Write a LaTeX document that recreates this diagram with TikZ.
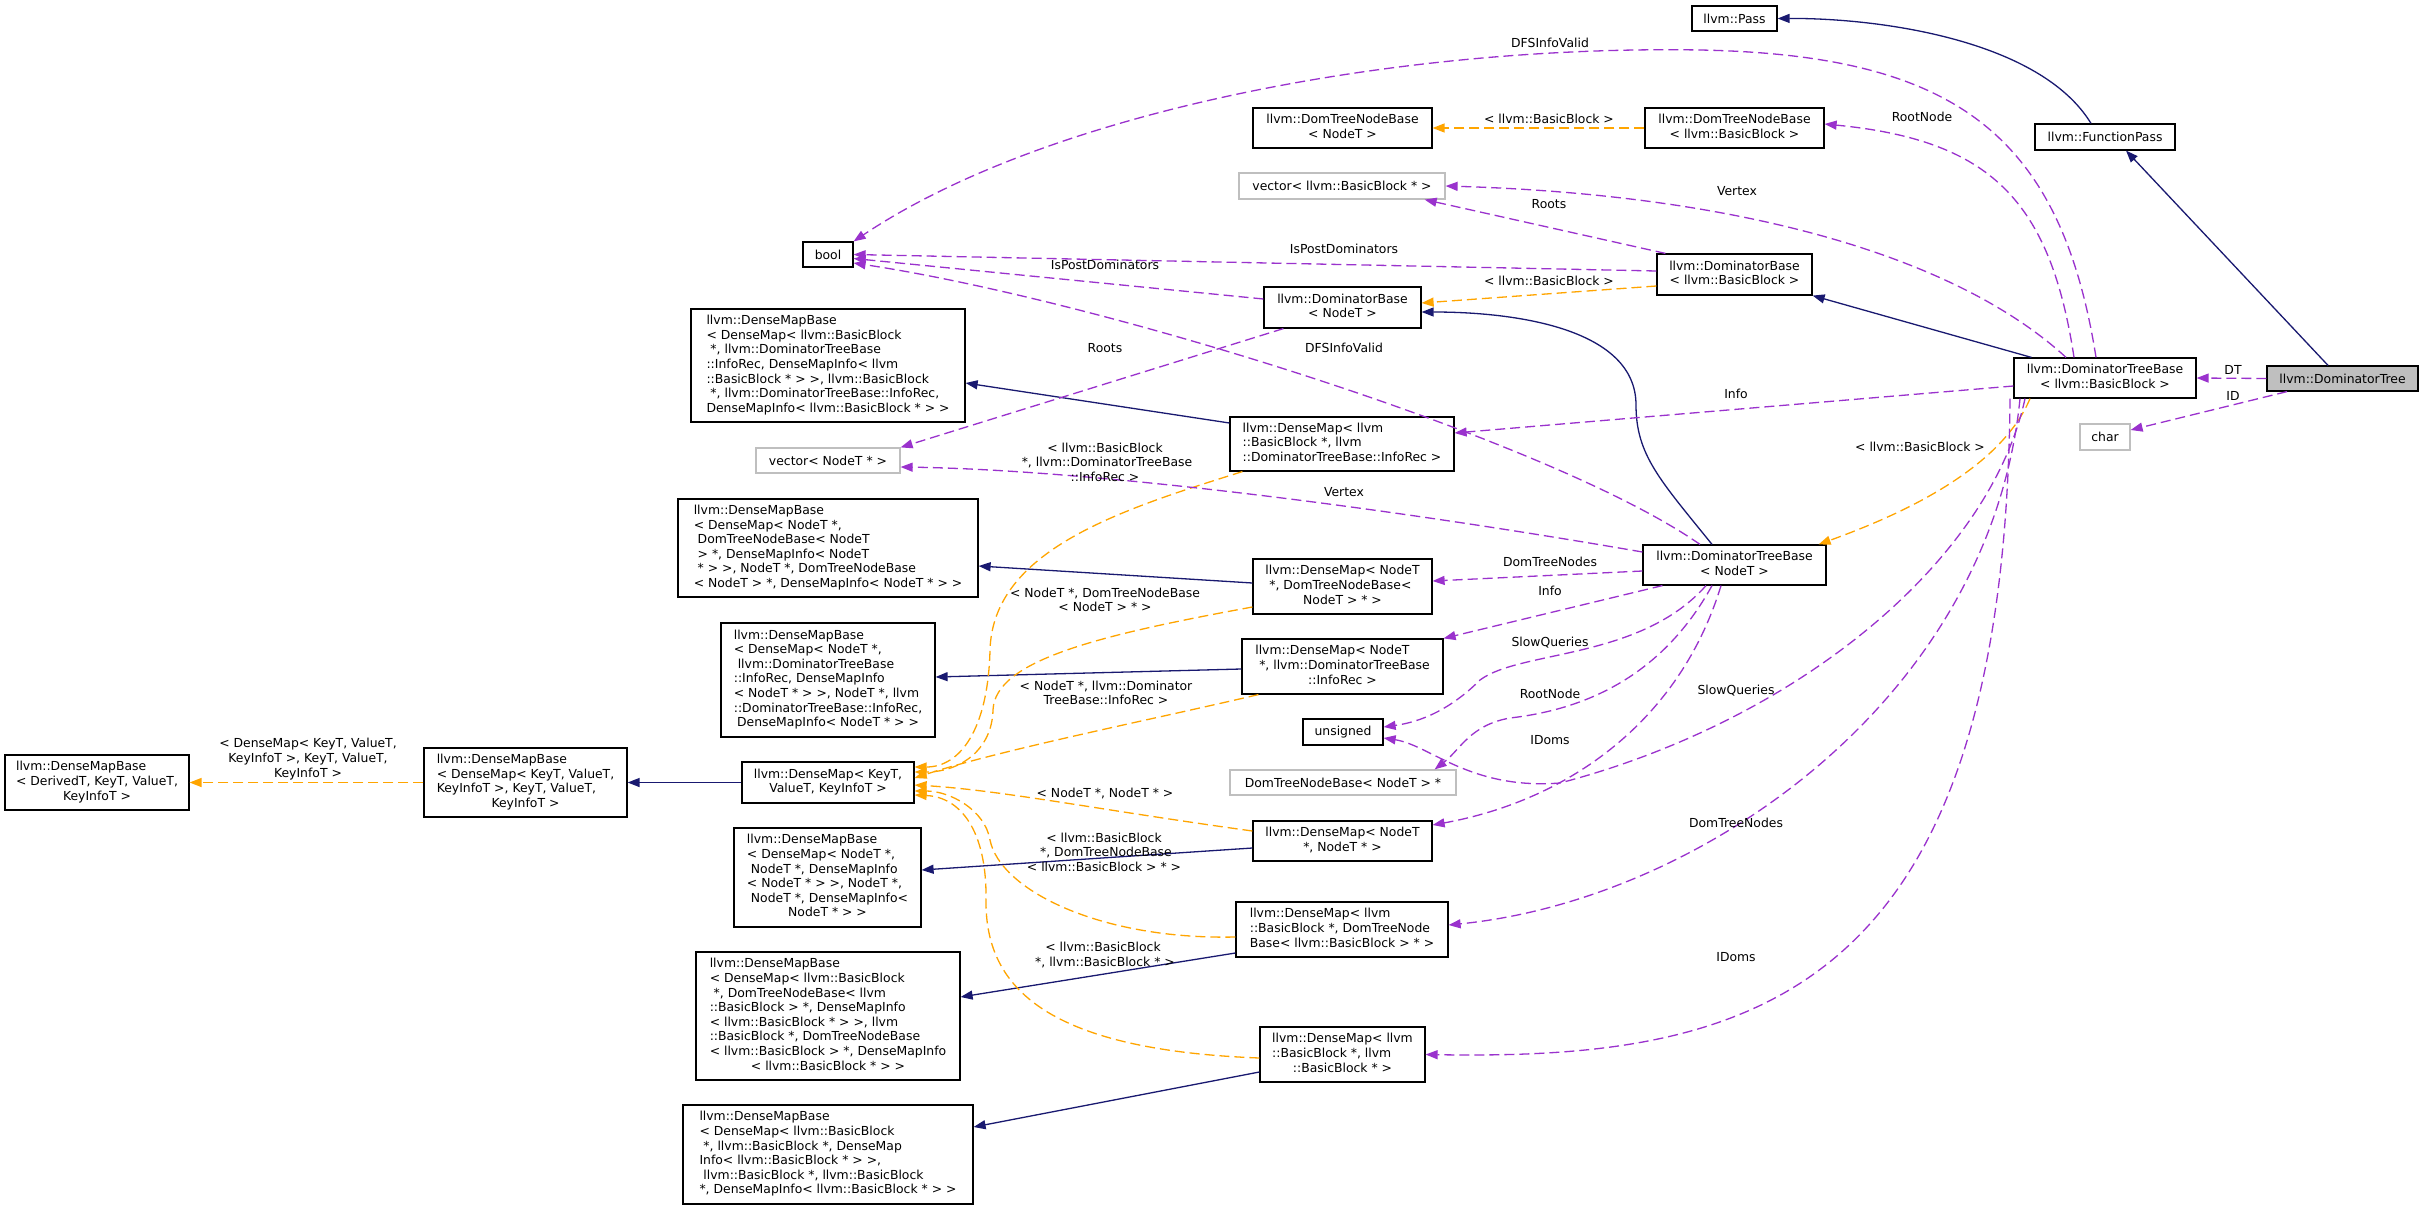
\documentclass[tikz,border=0pt]{standalone}
\usepackage{fontspec}
\setmainfont{DejaVu Sans}
\usetikzlibrary{arrows.meta}
\definecolor{inhblue}{HTML}{191970}
\definecolor{tmplorange}{HTML}{FFA500}
\definecolor{usepurple}{HTML}{9A32CD}
\definecolor{extgrey}{HTML}{BFBFBF}
\newcommand{\dotfont}{\fontsize{12.4}{14.6}\selectfont}
\newcommand{\clstext}[1]{\begin{tabular}{@{}l@{}}#1\end{tabular}}
\newcommand{\lastln}[1]{\multicolumn{1}{@{}c@{}}{#1}}

\begin{document}
\begin{tikzpicture}
    [x=1pt, y=-1pt,
    every node/.style = {font=\dotfont},
    cls/.style = {draw, line width=1.2pt, fill=white, inner sep=3pt},
    ext/.style = {cls, draw=extgrey},
    cur/.style = {cls, fill=extgrey},
    sz/.style 2 args = {minimum width=#1pt, minimum height=#2pt},
    inh/.style = {draw=inhblue, line width=1.3pt, -{Triangle[length=12pt,width=9pt]}},
    tmpl/.style = {draw=tmplorange, line width=1.3pt, dash pattern=on 10pt off 5pt,
        -{Triangle[length=12pt,width=9pt]}},
    use/.style = {draw=usepurple, line width=1.3pt, dash pattern=on 10pt off 5pt,
        -{Triangle[length=12pt,width=9pt]}},
    lbl/.style = {align=center, inner sep=0pt}]

    \fill[white] (0,0) rectangle (2424,1209);
    \useasboundingbox (0,0) rectangle (2424,1209);

    % classes
    \node[cls, sz={85}{25}] (pass) at (1734.5,18.5) {llvm::Pass};
    \node[cls, sz={140}{26}] (fpass) at (2105,137) {llvm::FunctionPass};
    \node[cls, sz={179}{40}] (dtnbT) at (1342.5,128) {\clstext{llvm::DomTreeNodeBase\\\lastln{< NodeT >}}};
    \node[cls, sz={179}{40}] (dtnbBB) at (1734.5,128) {\clstext{llvm::DomTreeNodeBase\\\lastln{< llvm::BasicBlock >}}};
    \node[ext, sz={206}{26}] (vecBB) at (1342,186) {vector< llvm::BasicBlock * >};
    \node[cls, sz={50}{25}] (bool) at (828,254.5) {bool};
    \node[cls, sz={155}{41}] (dbBB) at (1734.5,274.5) {\clstext{llvm::DominatorBase\\\lastln{< llvm::BasicBlock >}}};
    \node[cls, sz={157}{41}] (dbT) at (1342.5,307.5) {\clstext{llvm::DominatorBase\\\lastln{< NodeT >}}};
    \node[cls, sz={274}{113}] (dmbInfoBB) at (828,365.5) {\clstext{llvm::DenseMapBase\\< DenseMap< llvm::BasicBlock\\{} *, llvm::DominatorTreeBase\\::InfoRec, DenseMapInfo< llvm\\::BasicBlock * > >, llvm::BasicBlock\\{} *, llvm::DominatorTreeBase::InfoRec,\\\lastln{DenseMapInfo< llvm::BasicBlock * > >}}};
    \node[cls, sz={182}{40}] (dtbBB) at (2105,378) {\clstext{llvm::DominatorTreeBase\\\lastln{< llvm::BasicBlock >}}};
    \node[cur, sz={151}{25}] (domtree) at (2342.5,378.5) {llvm::DominatorTree};
    \node[ext, sz={50}{26}] (char) at (2105,437) {char};
    \node[cls, sz={224}{54}] (dmInfoBB) at (1342,444) {\clstext{llvm::DenseMap< llvm\\::BasicBlock *, llvm\\\lastln{::DominatorTreeBase::InfoRec >}}};
    \node[ext, sz={144}{25}] (vecT) at (828,460.5) {vector< NodeT * >};
    \node[cls, sz={300}{98}] (dmbNodesT) at (828,548) {\clstext{llvm::DenseMapBase\\< DenseMap< NodeT *,\\{} DomTreeNodeBase< NodeT\\{} > *, DenseMapInfo< NodeT\\{} * > >, NodeT *, DomTreeNodeBase\\\lastln{< NodeT > *, DenseMapInfo< NodeT * > >}}};
    \node[cls, sz={183}{40}] (dtbT) at (1734.5,565) {\clstext{llvm::DominatorTreeBase\\\lastln{< NodeT >}}};
    \node[cls, sz={179}{55}] (dmNodesT) at (1342.5,586.5) {\clstext{llvm::DenseMap< NodeT\\{} *, DomTreeNodeBase<\\\lastln{NodeT > * >}}};
    \node[cls, sz={214}{114}] (dmbInfoT) at (828,680) {\clstext{llvm::DenseMapBase\\< DenseMap< NodeT *,\\{} llvm::DominatorTreeBase\\::InfoRec, DenseMapInfo\\< NodeT * > >, NodeT *, llvm\\::DominatorTreeBase::InfoRec,\\\lastln{DenseMapInfo< NodeT * > >}}};
    \node[cls, sz={201}{55}] (dmInfoT) at (1342.5,666.5) {\clstext{llvm::DenseMap< NodeT\\{} *, llvm::DominatorTreeBase\\\lastln{::InfoRec >}}};
    \node[cls, sz={80}{26}] (unsigned) at (1343,732) {unsigned};
    \node[ext, sz={226}{25}] (dtnbPtr) at (1343,782.5) {DomTreeNodeBase< NodeT > *};
    \node[cls, sz={184}{55}] (dmbGen) at (97,782.5) {\clstext{llvm::DenseMapBase\\< DerivedT, KeyT, ValueT,\\\lastln{KeyInfoT >}}};
    \node[cls, sz={203}{69}] (dmbKVK) at (525.5,782.5) {\clstext{llvm::DenseMapBase\\< DenseMap< KeyT, ValueT,\\KeyInfoT >, KeyT, ValueT,\\\lastln{KeyInfoT >}}};
    \node[cls, sz={172}{41}] (dmKVK) at (828,782.5) {\clstext{llvm::DenseMap< KeyT,\\\lastln{ValueT, KeyInfoT >}}};
    \node[cls, sz={179}{40}] (dmNN) at (1342.5,841) {\clstext{llvm::DenseMap< NodeT\\\lastln{*, NodeT * >}}};
    \node[cls, sz={187}{99}] (dmbNN) at (827.5,877.5) {\clstext{llvm::DenseMapBase\\< DenseMap< NodeT *,\\{} NodeT *, DenseMapInfo\\< NodeT * > >, NodeT *,\\{} NodeT *, DenseMapInfo<\\\lastln{NodeT * > >}}};
    \node[cls, sz={212}{55}] (dmBBNodes) at (1342,929.5) {\clstext{llvm::DenseMap< llvm\\::BasicBlock *, DomTreeNode\\\lastln{Base< llvm::BasicBlock > * >}}};
    \node[cls, sz={264}{128}] (dmbBBNodes) at (828,1016) {\clstext{llvm::DenseMapBase\\< DenseMap< llvm::BasicBlock\\{} *, DomTreeNodeBase< llvm\\::BasicBlock > *, DenseMapInfo\\< llvm::BasicBlock * > >, llvm\\::BasicBlock *, DomTreeNodeBase\\< llvm::BasicBlock > *, DenseMapInfo\\\lastln{< llvm::BasicBlock * > >}}};
    \node[cls, sz={165}{55}] (dmBBBB) at (1342.5,1054.5) {\clstext{llvm::DenseMap< llvm\\::BasicBlock *, llvm\\\lastln{::BasicBlock * >}}};
    \node[cls, sz={290}{99}] (dmbBBBB) at (828,1154.5) {\clstext{llvm::DenseMapBase\\< DenseMap< llvm::BasicBlock\\{} *, llvm::BasicBlock *, DenseMap\\Info< llvm::BasicBlock * > >,\\{} llvm::BasicBlock *, llvm::BasicBlock\\\lastln{*, DenseMapInfo< llvm::BasicBlock * > >}}};

    % inheritance
    \draw[inh] ([xshift=-14pt]fpass.north) .. controls (2040,40) and (1880,18) .. (pass.east);
    \draw[inh] ([xshift=-14.5pt]domtree.north) -- ([xshift=21pt]fpass.south);
    \draw[inh] ([xshift=18pt]dtbBB.north west) -- (dbBB.south east);
    \draw[inh] ([xshift=-22.5pt]dtbT.north) .. controls (1660,480) and (1636,455) .. (1636,405)
        .. controls (1636,330) and (1520,312) .. ([yshift=-4.5pt]dbT.east);
    \draw[inh] ([yshift=21pt]dmInfoBB.west) -- ([yshift=-17.5pt]dmbInfoBB.east);
    \draw[inh] ([yshift=3.5pt]dmNodesT.west) -- ([yshift=-18pt]dmbNodesT.east);
    \draw[inh] ([yshift=-2.5pt]dmInfoT.west) -- ([yshift=3pt]dmbInfoT.east);
    \draw[inh] (dmKVK.west) -- (dmbKVK.east);
    \draw[inh] ([yshift=-7pt]dmNN.west) -- ([yshift=7.5pt]dmbNN.east);
    \draw[inh] ([yshift=-23.5pt]dmBBNodes.west) -- ([yshift=19pt]dmbBBNodes.east);
    \draw[inh] ([yshift=-17.5pt]dmBBBB.west) -- ([yshift=27.5pt]dmbBBBB.east);

    % template instances
    \draw[tmpl] (dtnbBB.west) -- (dtnbT.east);
    \draw[tmpl] ([yshift=-11.5pt]dbBB.west) -- ([yshift=4.5pt]dbT.east);
    \draw[tmpl] ([xshift=-75pt]dtbBB.south) .. controls (2000,470) and (1900,515) .. ([xshift=-8pt]dtbT.north east);
    \draw[tmpl] ([xshift=13pt]dmInfoBB.south west) .. controls (1120,510) and (993,550) .. (990,650)
        .. controls (988,730) and (960,767) .. ([yshift=15.5pt]dmKVK.east);
    \draw[tmpl] ([yshift=-20.5pt]dmNodesT.west) .. controls (1100,635) and (995,660) .. (993,710)
        .. controls (992,750) and (960,772) .. ([yshift=10.5pt]dmKVK.east);
    \draw[tmpl] ([xshift=17pt]dmInfoT.south west) .. controls (1150,720) and (1000,750) .. ([yshift=4.5pt]dmKVK.east);
    \draw[tmpl] ([yshift=10pt]dmNN.west) .. controls (1100,810) and (1000,790) .. ([yshift=-2.5pt]dmKVK.east);
    \draw[tmpl] ([yshift=-7.5pt]dmBBNodes.west) .. controls (1100,940) and (1000,890) .. (990,840)
        .. controls (985,810) and (950,791) .. ([yshift=-8.5pt]dmKVK.east);
    \draw[tmpl] ([yshift=-3.5pt]dmBBBB.west) .. controls (1050,1050) and (985,990) .. (986,900)
        .. controls (987,830) and (960,797) .. ([yshift=-12.5pt]dmKVK.east);
    \draw[tmpl] (dmbKVK.west) -- (dmbGen.east);

    % members
    \draw[use] (domtree.west) -- (dtbBB.east);
    \draw[use] ([xshift=-55.5pt]domtree.south) -- ([yshift=7pt]char.east);
    \draw[use] ([xshift=-9pt]dtbBB.north) .. controls (2060,130) and (1950,55) .. (1700,50)
        .. controls (1400,45) and (1050,110) .. (bool.north east);
    \draw[use] ([xshift=-31pt]dtbBB.north) .. controls (2050,200) and (1990,140) .. ([yshift=4pt]dtnbBB.east);
    \draw[use] ([xshift=-39pt]dtbBB.north) .. controls (1960,260) and (1750,195) .. (vecBB.east);
    \draw[use] ([xshift=9pt]dbBB.north west) -- ([xshift=-21pt]vecBB.south east);
    \draw[use] ([yshift=3.5pt]dbBB.west) -- (bool.east);
    \draw[use] ([yshift=8.5pt]dbT.west) -- ([yshift=-4pt]bool.east);
    \draw[use] ([xshift=-34.5pt]dtbT.north) .. controls (1550,440) and (1100,300) .. ([yshift=-8.5pt]bool.east);
    \draw[use] ([xshift=20pt]dbT.south west) -- (vecT.north east);
    \draw[use] ([yshift=13pt]dtbT.west) .. controls (1400,510) and (1100,470) .. ([yshift=-6.5pt]vecT.east);
    \draw[use] ([yshift=-8pt]dtbBB.west) -- ([yshift=11pt]dmInfoBB.east);
    \draw[use] ([yshift=-6pt]dtbT.west) -- ([yshift=5.5pt]dmNodesT.east);
    \draw[use] ([xshift=20pt]dtbT.south west) -- (dmInfoT.north east);
    \draw[use] ([xshift=-28.5pt]dtbT.south) .. controls (1640,660) and (1520,650) .. (1480,680)
        .. controls (1450,710) and (1420,722) .. ([yshift=5pt]unsigned.east);
    \draw[use] ([xshift=-22.5pt]dtbT.south) .. controls (1660,680) and (1580,710) .. (1510,718)
        .. controls (1470,725) and (1460,750) .. ([xshift=-22pt]dtnbPtr.north east);
    \draw[use] ([xshift=-13.5pt]dtbT.south) .. controls (1680,720) and (1570,800) .. ([yshift=16pt]dmNN.east);
    \draw[use] ([xshift=-80pt]dtbBB.south) .. controls (1990,560) and (1800,720) .. (1560,783)
        .. controls (1470,790) and (1430,745) .. ([yshift=-6pt]unsigned.east);
    \draw[use] ([xshift=-85pt]dtbBB.south) .. controls (1990,700) and (1700,900) .. ([yshift=4.5pt]dmBBNodes.east);
    \draw[use] ([xshift=-95pt]dtbBB.south) .. controls (2005,1000) and (1750,1060) .. (dmBBBB.east);

    % edge labels
    \node[lbl] (lTplDtnb) at (1549,119) {< llvm::BasicBlock >};
    \node[lbl] (lTplDb) at (1549,281) {< llvm::BasicBlock >};
    \node[lbl] (lTplDtb) at (1920,447) {< llvm::BasicBlock >};
    \node[lbl] (lTplInfoBB) at (1105,462) {< llvm::BasicBlock\\{} *, llvm::DominatorTreeBase\\::InfoRec >};
    \node[lbl] (lTplNodesT) at (1105,600) {< NodeT *, DomTreeNodeBase\\< NodeT > * >};
    \node[lbl] (lTplInfoT) at (1106,693) {< NodeT *, llvm::Dominator\\TreeBase::InfoRec >};
    \node[lbl] (lTplNN) at (1105,794) {< NodeT *, NodeT * >};
    \node[lbl] (lTplBBNodes) at (1104,852) {< llvm::BasicBlock\\{} *, DomTreeNodeBase\\< llvm::BasicBlock > * >};
    \node[lbl] (lTplBBBB) at (1103,955) {< llvm::BasicBlock\\{} *, llvm::BasicBlock * >};
    \node[lbl] (lTplKVK) at (308,759) {< DenseMap< KeyT, ValueT,\\KeyInfoT >, KeyT, ValueT,\\KeyInfoT >};
    \node[lbl] (lDT) at (2233,370) {DT};
    \node[lbl] (lID) at (2233,396) {ID};
    \node[lbl] (lDfsBB) at (1550,43) {DFSInfoValid};
    \node[lbl] (lRootBB) at (1922,117) {RootNode};
    \node[lbl] (lVertexBB) at (1737,191) {Vertex};
    \node[lbl] (lRootsBB) at (1549,204) {Roots};
    \node[lbl] (lPostBB) at (1344,249) {IsPostDominators};
    \node[lbl] (lPostT) at (1105,265) {IsPostDominators};
    \node[lbl] (lDfsT) at (1344,348) {DFSInfoValid};
    \node[lbl] (lRootsT) at (1105,348) {Roots};
    \node[lbl] (lInfoBB) at (1736,394) {Info};
    \node[lbl] (lVertexT) at (1344,492) {Vertex};
    \node[lbl] (lNodesT) at (1550,562) {DomTreeNodes};
    \node[lbl] (lInfoT) at (1550,591) {Info};
    \node[lbl] (lSlowT) at (1550,643) {SlowQueries};
    \node[lbl] (lRootT) at (1550,694) {RootNode};
    \node[lbl] (lIDomsT) at (1550,740) {IDoms};
    \node[lbl] (lSlowBB) at (1736,691) {SlowQueries};
    \node[lbl] (lNodesBB) at (1736,823) {DomTreeNodes};
    \node[lbl] (lIDomsBB) at (1736,957) {IDoms};
\end{tikzpicture}
\end{document}
